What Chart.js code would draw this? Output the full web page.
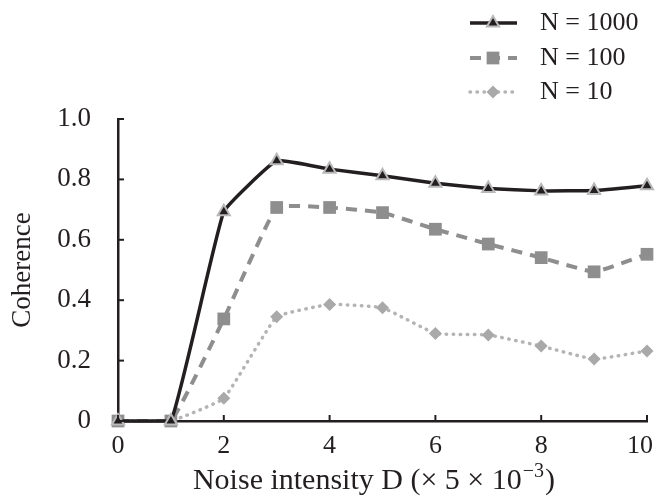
<!DOCTYPE html>
<html>
<head>
<meta charset="utf-8">
<script src="https://cdn.jsdelivr.net/npm/chart.js@4.4.0/dist/chart.umd.min.js"></script>
<style>
  html, body { margin: 0; padding: 0; background: #fff; }
</style>
</head>
<body>
<canvas id="myChart" width="657" height="502"></canvas>
<script>
const noiseValues = [0, 1, 2, 3, 4, 5, 6, 7, 8, 9, 10];
const coherenceN1000 = [0, 0, 0.693, 0.862, 0.834, 0.812, 0.787, 0.770, 0.762, 0.763, 0.779];
const coherenceN100 = [0, 0, 0.338, 0.707, 0.707, 0.690, 0.635, 0.586, 0.541, 0.494, 0.552];
const coherenceN10 = [0, 0, 0.075, 0.345, 0.386, 0.375, 0.290, 0.285, 0.248, 0.205, 0.232];
const seriesNames = ['N = 1000', 'N = 100', 'N = 10'];
const xTickValues = [0, 2, 4, 6, 8, 10];
const xTitleMain = 'Noise intensity D (\u00d7 5 \u00d7 10';
const xTitleSup = '\u22123';
const yTitle = 'Coherence';

const ink = '#231f20';
const serif = "'Liberation Serif', 'Times New Roman', serif";

function toPoints(values) {
    return noiseValues.map((x, i) => ({ x: x, y: values[i] }));
}

// legend, inner tick marks, x labels and x title are drawn here
const extrasPlugin = {
    id: 'extras',
    afterDraw(chart) {
        const ctx = chart.ctx;
        const xs = chart.scales.x;
        const ys = chart.scales.y;
        const area = chart.chartArea;
        ctx.save();

        // inner ticks
        ctx.strokeStyle = ink;
        ctx.lineWidth = 2;
        ys.ticks.forEach((t) => {
            const py = ys.getPixelForValue(t.value);
            ctx.beginPath();
            ctx.moveTo(area.left, py);
            ctx.lineTo(area.left + 6, py);
            ctx.stroke();
        });
        xTickValues.forEach((v) => {
            const px = xs.getPixelForValue(v);
            ctx.beginPath();
            ctx.moveTo(px, area.bottom);
            ctx.lineTo(px, area.bottom - 6);
            ctx.stroke();
        });

        // x tick labels
        ctx.fillStyle = ink;
        ctx.font = '26px ' + serif;
        ctx.textBaseline = 'middle';
        ctx.textAlign = 'center';
        xTickValues.forEach((v, i) => {
            const px = xs.getPixelForValue(v);
            const shift = i === xTickValues.length - 1 ? -7 : 0;
            ctx.fillText(String(v), px + shift, 446);
        });

        // x title with superscript
        ctx.textBaseline = 'alphabetic';
        ctx.textAlign = 'left';
        ctx.font = '30px ' + serif;
        const w1 = ctx.measureText(xTitleMain).width;
        const w3 = ctx.measureText(')').width;
        ctx.font = '20px ' + serif;
        const w2 = ctx.measureText(xTitleSup).width;
        const tx = 373 - (w1 + w2 + w3) / 2;
        const ty = 489;
        ctx.font = '30px ' + serif;
        ctx.fillText(xTitleMain, tx, ty);
        ctx.font = '20px ' + serif;
        ctx.fillText(xTitleSup, tx + w1 + 1, ty - 12);
        ctx.font = '30px ' + serif;
        ctx.fillText(')', tx + w1 + w2 + 2, ty);

        // legend
        const rows = [23, 58, 92];
        chart.data.datasets.forEach((ds, i) => {
            const y = rows[i];
            ctx.save();
            ctx.strokeStyle = ds.borderColor;
            ctx.lineWidth = ds.borderWidth;
            ctx.lineCap = ds.borderCapStyle || 'butt';
            ctx.setLineDash(ds.borderDash || []);
            ctx.beginPath();
            ctx.moveTo(470, y);
            ctx.lineTo(517, y);
            ctx.stroke();
            ctx.setLineDash([]);
            ctx.fillStyle = ds.pointBackgroundColor;
            ctx.strokeStyle = ds.pointBorderColor;
            ctx.lineWidth = ds.pointBorderWidth;
            Chart.helpers.drawPoint(ctx, {
                pointStyle: ds.pointStyle,
                radius: ds.pointRadius,
                borderWidth: ds.pointBorderWidth,
                rotation: 0,
            }, 493, y);
            ctx.restore();
            ctx.fillStyle = ink;
            ctx.font = '26px ' + serif;
            ctx.textAlign = 'left';
            ctx.textBaseline = 'middle';
            ctx.fillText(seriesNames[i], 540, y);
        });

        ctx.restore();
    },
};

const ctx = document.getElementById('myChart');
new Chart(ctx, {
    type: 'line',
    data: {
        datasets: [
            {
                label: seriesNames[0],
                data: toPoints(coherenceN1000),
                borderColor: ink,
                borderWidth: 3.5,
                tension: 0.1,
                pointStyle: 'triangle',
                pointRadius: 7,
                pointBackgroundColor: ink,
                pointBorderColor: '#b9b9b9',
                pointBorderWidth: 2,
                clip: false,
            },
            {
                label: seriesNames[1],
                data: toPoints(coherenceN100),
                borderColor: '#8e8e8e',
                borderWidth: 4,
                borderDash: [11, 8],
                tension: 0.1,
                pointStyle: 'rect',
                pointRadius: 9,
                pointBackgroundColor: '#8e8e8e',
                pointBorderColor: '#8e8e8e',
                pointBorderWidth: 0,
                clip: false,
            },
            {
                label: seriesNames[2],
                data: toPoints(coherenceN10),
                borderColor: '#b4b4b4',
                borderWidth: 3.5,
                borderDash: [0.5, 6.5],
                borderCapStyle: 'round',
                tension: 0.1,
                pointStyle: 'rectRot',
                pointRadius: 6.5,
                pointBackgroundColor: '#a9a9a9',
                pointBorderColor: '#a9a9a9',
                pointBorderWidth: 0,
                clip: false,
            },
        ],
    },
    options: {
        responsive: false,
        animation: false,
        layout: { padding: { left: 0, top: 119, right: 10, bottom: 0 } },
        plugins: {
            legend: { display: false },
            tooltip: { enabled: false },
        },
        scales: {
            x: {
                type: 'linear',
                min: 0,
                max: 10,
                ticks: { display: false, stepSize: 2 },
                grid: { display: false },
                border: { color: ink, width: 2.5 },
                afterFit: (s) => { s.height = 81; s.paddingLeft = 0; s.paddingRight = 0; },
            },
            y: {
                min: 0,
                max: 1,
                ticks: {
                    stepSize: 0.2,
                    padding: 19,
                    color: ink,
                    font: { family: serif, size: 27 },
                    callback: (v) => (v === 0 ? '0' : v.toFixed(1)),
                },
                grid: { display: false },
                border: { color: ink, width: 2.5 },
                title: {
                    display: true,
                    text: yTitle,
                    color: ink,
                    font: { family: serif, size: 27 },
                    padding: { top: 7, bottom: 0 },
                },
                afterFit: (s) => { s.width = 118; },
            },
        },
    },
    plugins: [extrasPlugin],
});
</script>
</body>
</html>
